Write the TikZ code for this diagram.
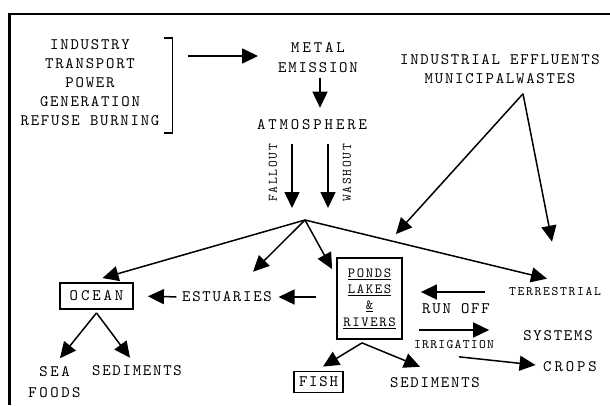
\documentclass[tikz,border=0pt]{standalone}
\usepackage{fontspec}
\setmonofont{lmmono10-regular.otf}
\usetikzlibrary{arrows.meta, calc}
\newcommand{\spread}[1]{{\addfontfeature{LetterSpace=18}#1}}

\begin{document}
\begin{tikzpicture}[x=1pt, y=-1pt,
    lbl/.style={font=\ttfamily\fontsize{16}{19}\selectfont\addfontfeature{LetterSpace=11}, inner sep=0pt, align=center},
    sml/.style={font=\ttfamily\fontsize{13}{15}\selectfont\addfontfeature{LetterSpace=13}, inner sep=0pt, align=center},
    boxed/.style={draw, line width=1.8pt, inner sep=0pt},
    arr/.style={-{Triangle[length=16pt,width=15pt]}, line width=1.5pt}]
        \useasboundingbox (0,0) rectangle (610,405);
        % Frame
        \draw[line width=2.2pt] (9.5,405) -- (9.5,14) -- (610,14);

        % Sources
        \node[lbl] (src) at (90,83) {INDUSTRY\\TRANSPORT\\POWER\\GENERATION\\REFUSE BURNING};
        \draw[line width=1.5pt] ([xshift=4pt,yshift=45pt]src.east) -| ([xshift=13pt,yshift=-50pt]src.east) -- ([xshift=4pt,yshift=-50pt]src.east);
        \node[lbl, font=\ttfamily\fontsize{16}{20}\selectfont\addfontfeature{LetterSpace=11}] (emis) at (318,58) {\spread{METAL}\\EMISSION};
        \node[lbl] (atm) at (312,125) {\spread{ATMOSPHERE}};
        \draw[arr] ([xshift=28pt,yshift=27pt]src.east) -- ([xshift=-20pt,yshift=2pt]emis.west);
        \draw[arr] ([xshift=2pt,yshift=-5pt]emis.south) -- ([xshift=8pt,yshift=12pt]atm.north);

        % Fallout and washout
        \coordinate (split) at (305,220);
        \node[sml, rotate=90] (fall) at (273,173) {FALLOUT};
        \node[sml, rotate=90] (wash) at (347,173) {WASHOUT};
        \draw[arr] ([xshift=-20pt,yshift=-14pt]atm.south) -- ([xshift=-13pt,yshift=12pt]split);
        \draw[arr] ([xshift=16pt,yshift=-14pt]atm.south) -- ([xshift=23pt,yshift=12pt]split);

        % Effluents
        \node[lbl] (eff) at (500,69) {INDUSTRIAL EFFLUENTS\\MUNICIPALWASTES};
        \coordinate (apex) at ([xshift=23pt,yshift=-10pt]eff.south);

        % Water bodies
        \node[lbl, boxed, minimum width=73pt, minimum height=26pt] (ocean) at (96.5,296) {\spread{OCEAN}};
        \node[lbl] (est) at (227,297) {ESTUARIES};
        \node[boxed, minimum width=65pt, minimum height=81pt, align=center,
              font=\ttfamily\fontsize{14}{16.3}\selectfont\addfontfeature{LetterSpace=12}] (ponds) at (369.5,298.5)
              {\underline{PONDS}\\\underline{LAKES}\\\underline{\&}\\\underline{RIVERS}};
        \node[sml] (terr) at (555,292) {TERRESTRIAL};
        \node[lbl] (runoff) at (456,309) {RUN OFF};
        \node[sml, font=\ttfamily\fontsize{13}{15}\selectfont\addfontfeature{LetterSpace=10}] (irr) at (454,345) {IRRIGATION};
        \node[lbl] (sys) at (558,336) {SYSTEMS};
        \node[lbl] (crops) at (570,367) {\spread{CROPS}};

        % Sinks
        \node[lbl, font=\ttfamily\fontsize{16}{21}\selectfont\addfontfeature{LetterSpace=16}] (sea) at (54.5,382.5) {SEA\\FOODS};
        \node[lbl] (sedA) at (137,371) {SEDIMENTS};
        \node[lbl, boxed, minimum width=49pt, minimum height=21pt] (fish) at (318.5,382) {FISH};
        \node[lbl] (sedB) at (435,383) {SEDIMENTS};

        % Arrows from split
        \draw[arr] (split) -- ([xshift=6pt,yshift=4pt]ocean.north);
        \draw[arr] (split) -- ([xshift=26pt,yshift=20pt]est.north);
        \draw[arr] (split) -- ([xshift=-4pt,yshift=-12pt]ponds.north west);
        \draw[arr] (split) -- ([xshift=-8pt,yshift=9pt]terr.north);
        \draw[arr] (apex) -- ([xshift=-7pt,yshift=23pt]ponds.north east);
        \draw[arr] (apex) -- ([xshift=-3pt,yshift=46pt]terr.north);

        % Lateral flows
        \draw[arr, shorten <=5.5pt, shorten >=14pt] (est.west) -- (ocean.east);
        \draw[arr, shorten <=20pt, shorten >=6.5pt] (ponds.west |- est.east) -- (est.east);
        \draw[arr, shorten <=24pt, shorten >=18pt] (terr.west) -- (ponds.east |- terr.west);
        \draw[arr] ([xshift=5pt,yshift=15pt]irr.west) -- ([xshift=-5pt,yshift=15pt]irr.east);
        \draw[arr] ([xshift=5pt,yshift=-7.5pt]irr.south) -- ([xshift=-7.5pt,yshift=2pt]crops.west);

        % Down to sinks
        \draw[arr] ([yshift=-3pt]ocean.south) -- ([xshift=5.5pt,yshift=8.5pt]sea.north);
        \draw[arr] ([yshift=-3pt]ocean.south) -- ([xshift=-7pt,yshift=8pt]sedA.north);
        \draw[arr] ([xshift=-7.5pt,yshift=-3pt]ponds.south) -- ([xshift=4.5pt,yshift=4pt]fish.north);
        \draw[arr] ([xshift=-7.5pt,yshift=-3pt]ponds.south) -- ([xshift=-15pt,yshift=11pt]sedB.north);
    \end{tikzpicture}
\end{document}
